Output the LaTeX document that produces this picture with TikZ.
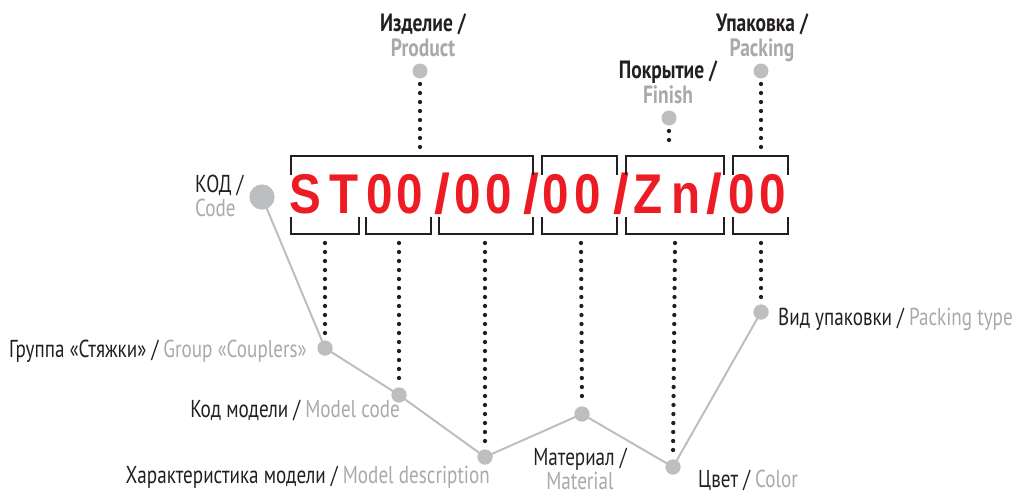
\documentclass[tikz,border=0pt]{standalone}
\usepackage{fontspec}
\setmainfont{PT Sans}[FakeStretch=0.78]
\newfontfamily\codefont{Liberation Sans}[FakeStretch=0.85]
\definecolor{ink}{HTML}{231F20}
\definecolor{lab}{HTML}{A7A9AC}
\definecolor{dotg}{HTML}{BCBEC0}
\definecolor{codered}{HTML}{ED1C24}
\newcommand\cslash{\scalebox{1.2}[1]{/}}
\tikzset{
  pt/.style={circle, fill=dotg, inner sep=0pt, minimum size=15pt},
  bigpt/.style={pt, minimum size=25pt},
  dotline/.style={ink, line width=4.3pt, line cap=round, dash pattern=on 0pt off 9pt},
  link/.style={dotg, line width=2pt},
  brk/.style={ink, line width=2pt},
  lbl/.style={font=\fontsize{24.5}{24}\selectfont, text=ink, inner sep=0pt},
  ttl/.style={font=\fontsize{25}{25}\selectfont\bfseries, text=ink, align=center, inner sep=0pt},
  ch/.style={font=\codefont\bfseries\fontsize{56}{56}\selectfont, text=codered, inner sep=0pt, anchor=base}
}
\begin{document}
\begin{tikzpicture}[x=1pt,y=-1pt]
\useasboundingbox (0,0) rectangle (1015,493);
% code characters
\foreach \px/\c [count=\i] in {305/S,344/T,380/0,410/0,442/\cslash,468/0,499/0,531/\cslash,556/0,588/0,621/\cslash,648/Z,686/n,714/\cslash,742/0,773/0}
  \node[ch] (c\i) at (\px,213) {\c};
% top brackets
\draw[brk] (291,175) -- (291,156) -- (533,156) -- (533,175);
\draw[brk] (542,175) -- (542,156) -- (617,156) -- (617,175);
\draw[brk] (626,175) -- (626,156) -- (724,156) -- (724,175);
\draw[brk] (733,175) -- (733,156) -- (788,156) -- (788,175);
% bottom brackets
\draw[brk] (291,217) -- (291,234) -- (359,234) -- (359,217);
\draw[brk] (366,217) -- (366,234) -- (431,234) -- (431,217);
\draw[brk] (439,217) -- (439,234) -- (533,234) -- (533,217);
\draw[brk] (542,217) -- (542,234) -- (617,234) -- (617,217);
\draw[brk] (626,217) -- (626,234) -- (724,234) -- (724,217);
\draw[brk] (733,217) -- (733,234) -- (788,234) -- (788,217);
% bracket anchor coordinates
\coordinate (t1) at (420,148);
\coordinate (t2) at (669,148);
\coordinate (t3) at (761,148);
\coordinate (b1) at (325,243);
\coordinate (b2) at (399,243);
\coordinate (b3) at (485,243);
\coordinate (b4) at (581,243);
\coordinate (b5) at (675,243);
\coordinate (b6) at (761,243);
% top points and titles
\node[pt] (pprod) at (420,71) {};
\node[pt] (pfin) at (669,118) {};
\node[pt] (ppack) at (761,71) {};
\node[ttl, anchor=base] (tprod) at (423,56) {Изделие /\\\textcolor{lab}{Product}};
\node[ttl, anchor=base] (tfin) at (668,103) {Покрытие /\\\textcolor{lab}{Finish}};
\node[ttl, anchor=base] (tpack) at (762,56) {Упаковка /\\\textcolor{lab}{Packing}};
\draw[dotline] ([yshift=-13pt]pprod.center) -- (t1);
\draw[dotline] ([yshift=-13pt]pfin.center) -- (t2);
\draw[dotline] ([yshift=-13pt]ppack.center) -- (t3);
% code point
\node[bigpt] (pcode) at (262,197) {};
\node[lbl, anchor=base west, align=left] (lcode) at (195,216) {КОД /\\\textcolor{lab}{Code}};
% bottom points
\node[pt] (g1) at (325,348) {};
\node[pt] (g2) at (399,395) {};
\node[pt] (g3) at (485,457) {};
\node[pt] (g4) at (582,414) {};
\node[pt] (g5) at (673,467) {};
\node[pt] (g6) at (761,312) {};
\draw[link] (pcode.center) -- (g1.center) -- (g2.center) -- (g3.center) -- (g4.center) -- (g5.center) -- (g6.center);
\node[bigpt] at (pcode) {};
\foreach \n in {g1,g2,g3,g4,g5,g6} \node[pt] at (\n) {};
\draw[dotline] (b1) -- ([yshift=11pt]g1.center);
\draw[dotline] (b2) -- ([yshift=11pt]g2.center);
\draw[dotline] (b3) -- ([yshift=11pt]g3.center);
\draw[dotline] (b4) -- ([yshift=11pt]g4.center);
\draw[dotline] (b5) -- ([yshift=11pt]g5.center);
\draw[dotline] (b6) -- ([yshift=11pt]g6.center);
% bottom labels
\node[lbl, anchor=base east] (l1) at (307,357) {Группа «Стяжки» / \textcolor{lab}{Group «Couplers»}};
\node[lbl, anchor=base east] (l2) at (400,417) {Код модели / \textcolor{lab}{Model code}};
\node[lbl, anchor=base east] (l3) at (490,483) {Характеристика модели / \textcolor{lab}{Model description}};
\node[lbl, anchor=base, align=center, font=\fontsize{24.5}{22}\selectfont] (l4) at (580,489) {Материал /\\\textcolor{lab}{Material}};
\node[lbl, anchor=base west] (l5) at (698,487) {Цвет / \textcolor{lab}{Color}};
\node[lbl, anchor=base west] (l6) at (778,325) {Вид упаковки / \textcolor{lab}{Packing type}};
\end{tikzpicture}
\end{document}
